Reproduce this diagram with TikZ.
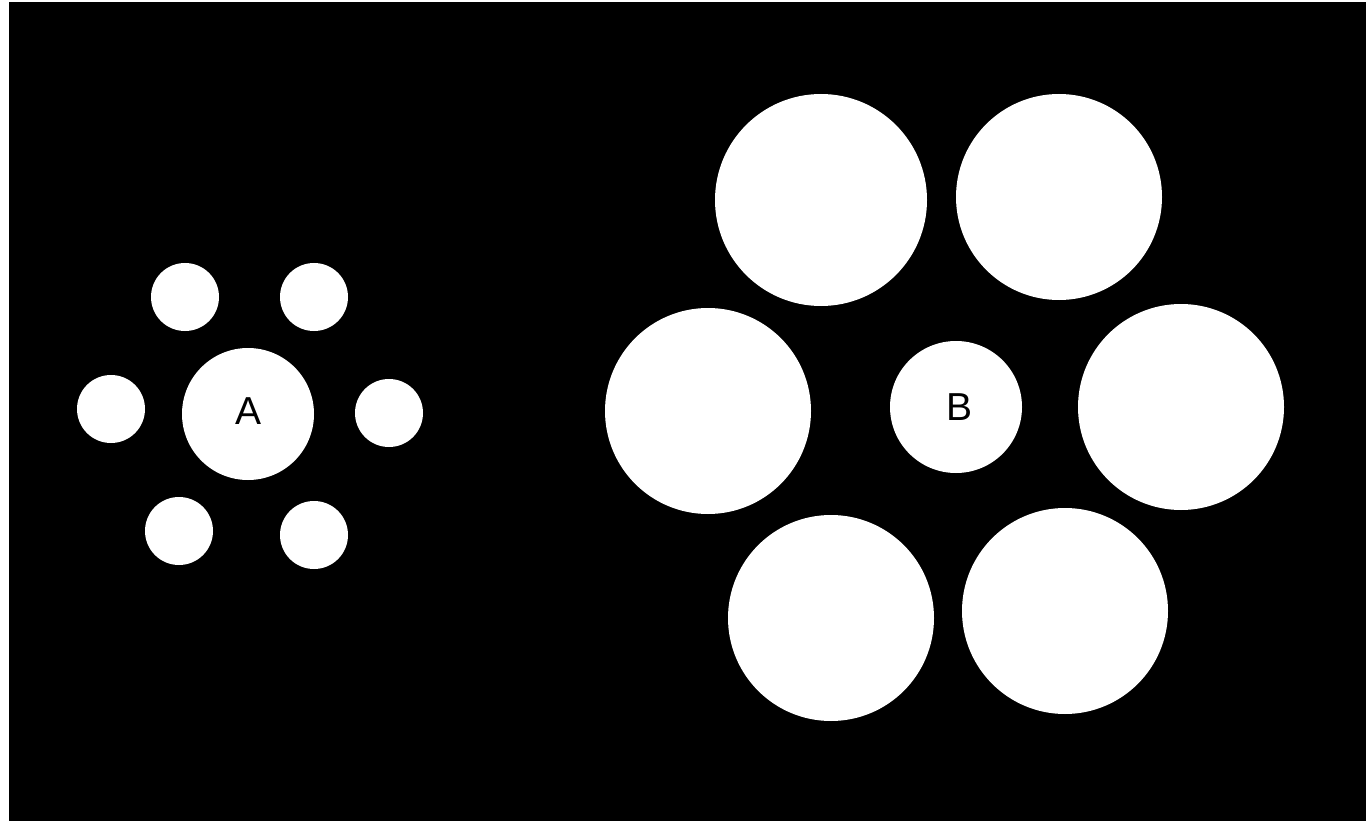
\documentclass[tikz,border=0pt]{standalone}
\usepackage{fontspec}
\setmainfont{Liberation Sans}
\begin{document}
\begin{tikzpicture}[x=1pt,y=-1pt]
\tikzset{
  disc/.style={circle,fill=white,draw=none,inner sep=0pt,minimum size=#1},
  lbl/.style={inner sep=0pt,text=black,font=\fontsize{39}{41}\selectfont}
}
\useasboundingbox (0,0) rectangle (1366,821);
\fill[white] (0,0) rectangle (1366,821);
\fill[black] (9,2) rectangle (1366,821);
% left group
\node[disc=132pt] (A) at (248,414) {};
\node[disc=68pt] (a1) at (185,297) {};
\node[disc=68pt] (a2) at (314,297) {};
\node[disc=68pt] (a3) at (111,409) {};
\node[disc=68pt] (a4) at (389,413) {};
\node[disc=68pt] (a5) at (179,531) {};
\node[disc=68pt] (a6) at (314,535) {};
\node[lbl] (la) at (249,411) {A};
% right group
\node[disc=132pt] (B) at (956,407) {};
\node[disc=212pt] (b1) at (821,200) {};
\node[disc=206pt] (b2) at (1059,197) {};
\node[disc=206pt] (b3) at (708,411) {};
\node[disc=206pt] (b4) at (1181,407) {};
\node[disc=206pt] (b5) at (831,618) {};
\node[disc=206pt] (b6) at (1065,611) {};
\node[lbl] (lb) at (959,407) {B};
\end{tikzpicture}
\end{document}
